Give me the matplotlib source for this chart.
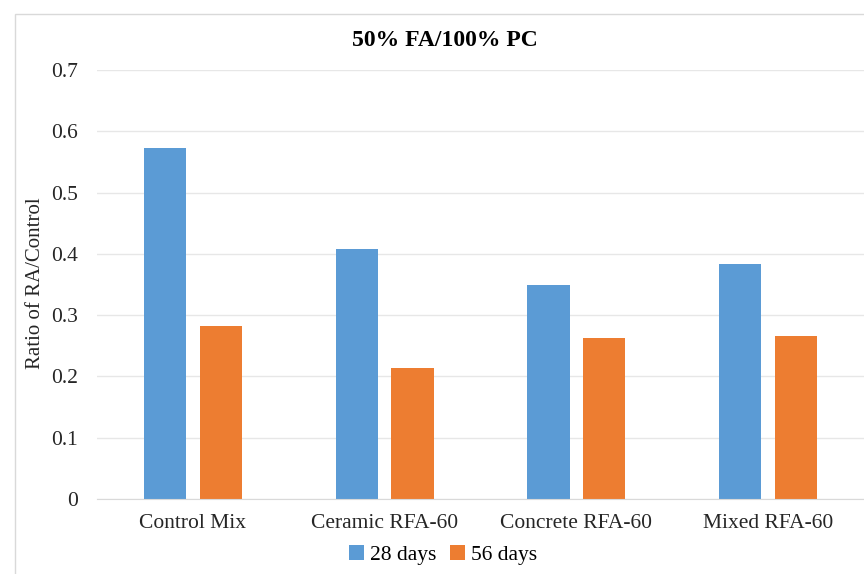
import matplotlib.pyplot as plt
import numpy as np
from matplotlib.patches import Rectangle

plt.rcParams["font.family"] = ["Liberation Serif", "DejaVu Serif"]

categories = ["Control Mix", "Ceramic RFA-60", "Concrete RFA-60", "Mixed RFA-60"]
days_28 = [0.573, 0.408, 0.349, 0.383]
days_56 = [0.282, 0.214, 0.263, 0.266]
series_labels = ["28 days", "56 days"]
yticks = [0, 0.1, 0.2, 0.3, 0.4, 0.5, 0.6, 0.7]
ytick_labels = ["0", "0.1", "0.2", "0.3", "0.4", "0.5", "0.6", "0.7"]

BLUE = "#5B9BD5"
ORANGE = "#ED7D31"
FS = 15.5

fig = plt.figure(figsize=(8.64, 5.74), dpi=100)
# chart frame like the Excel chart area
fig.patches.append(Rectangle((15 / 864, -0.1), 1.0, 1 - 14 / 574 + 0.1,
                             transform=fig.transFigure, fill=False,
                             edgecolor="#D9D9D9", linewidth=1.0))

ax = fig.add_axes([97 / 864, 1 - 499 / 574, 1 - 97 / 864, (499 - 70) / 574])
x = np.arange(len(categories))
w = 0.22
ax.bar(x - 0.145, days_28, w, color=BLUE, label=series_labels[0], zorder=2)
ax.bar(x + 0.145, days_56, w, color=ORANGE, label=series_labels[1], zorder=2)

ax.set_xlim(-0.5, len(categories) - 0.5)
ax.set_ylim(0, 0.7)
ax.set_yticks(yticks)
ax.set_yticklabels(ytick_labels)
ax.set_xticks(x)
ax.set_xticklabels(categories)
ax.tick_params(axis="both", length=0, labelsize=FS, colors="#262626")
ax.tick_params(axis="y", pad=14)
ax.tick_params(axis="x", pad=11)
ax.grid(axis="y", color="#E7E7E7", linewidth=1.0, zorder=0)
for s in ["top", "right", "left"]:
    ax.spines[s].set_visible(False)
ax.spines["bottom"].set_color("#D9D9D9")

ax.set_ylabel("Ratio of RA/Control", fontsize=15, color="#262626")
ax.yaxis.set_label_coords(-(97 - 45) / 767, (499 - 283) / 429)

fig.text(445 / 864, 1 - 40 / 574, "50% FA/100% PC", ha="center", va="center",
         fontsize=17, fontweight="bold", color="black")

ax.legend(loc="center", bbox_to_anchor=((443 - 97) / 767, -(555 - 499) / 429),
          ncol=2, frameon=False, fontsize=FS, handlelength=0.7,
          handleheight=0.7, handletextpad=0.3, columnspacing=0.6)

fig.savefig("out.png", dpi=100)
